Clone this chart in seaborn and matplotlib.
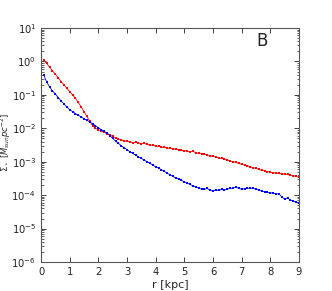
import numpy as np
import pandas as pd
import matplotlib
matplotlib.use("Agg")
import matplotlib.pyplot as plt
import seaborn as sns

# radius grid [kpc]
r_kpc = [round(0.1 * i, 1) for i in range(1, 91)]

# log10 of surface density
red_log = [0.04, -0.06, -0.17, -0.28, -0.38, -0.49, -0.60, -0.70, -0.80, -0.90,
           -1.00, -1.10, -1.22, -1.36, -1.50, -1.64, -1.79, -1.92, -2.00, -2.04,
           -2.08, -2.12, -2.16, -2.20, -2.24, -2.28, -2.32, -2.35, -2.37, -2.39,
           -2.40, -2.43, -2.42, -2.44, -2.46, -2.45, -2.48, -2.50, -2.51, -2.53,
           -2.54, -2.57, -2.56, -2.59, -2.60, -2.61, -2.63, -2.64, -2.65, -2.67,
           -2.68, -2.70, -2.69, -2.73, -2.75, -2.76, -2.78, -2.79, -2.82, -2.84,
           -2.86, -2.89, -2.90, -2.93, -2.95, -2.98, -3.00, -3.02, -3.05, -3.08,
           -3.10, -3.12, -3.15, -3.18, -3.20, -3.23, -3.26, -3.27, -3.30, -3.31,
           -3.33, -3.34, -3.35, -3.36, -3.37, -3.38, -3.40, -3.42, -3.44, -3.47]

blue_log = [-0.41, -0.62, -0.76, -0.88, -0.97, -1.08, -1.18, -1.27, -1.36, -1.44,
            -1.50, -1.56, -1.61, -1.66, -1.71, -1.76, -1.81, -1.86, -1.92, -1.98,
            -2.04, -2.09, -2.14, -2.22, -2.30, -2.38, -2.45, -2.52, -2.58, -2.64,
            -2.70, -2.75, -2.80, -2.85, -2.90, -2.95, -3.00, -3.05, -3.10, -3.15,
            -3.19, -3.24, -3.29, -3.34, -3.39, -3.44, -3.48, -3.52, -3.56, -3.60,
            -3.64, -3.68, -3.72, -3.76, -3.79, -3.82, -3.83, -3.80, -3.86, -3.88,
            -3.84, -3.86, -3.83, -3.85, -3.82, -3.80, -3.79, -3.76, -3.80, -3.82,
            -3.81, -3.80, -3.79, -3.80, -3.82, -3.85, -3.88, -3.90, -3.92, -3.93,
            -3.94, -3.97, -3.96, -4.05, -4.12, -4.08, -4.15, -4.18, -4.20, -4.24]

df = pd.DataFrame({
    "r": r_kpc * 2,
    "sigma": [10 ** v for v in red_log + blue_log],
    "comp": ["red"] * len(red_log) + ["blue"] * len(blue_log),
})

sns.set_style("ticks")
plt.rcParams["font.family"] = ["DejaVu Sans"]
plt.rcParams["xtick.direction"] = "in"
plt.rcParams["ytick.direction"] = "in"
plt.rcParams["axes.unicode_minus"] = False

fig = plt.figure(figsize=(3.32, 2.91), dpi=100)
ax = fig.add_axes([0.1235, 0.0997, 0.777, 0.804])

sns.lineplot(data=df, x="r", y="sigma", hue="comp",
             palette={"red": "#ff0000", "blue": "#0000ff"},
             marker="s", markersize=1.6, markeredgewidth=0, linewidth=0.6,
             legend=False, ax=ax)

ax.set_yscale("log")
ax.set_xlim(0, 9)
ax.set_ylim(1e-6, 10)
ax.set_xticks(range(0, 10))
ax.tick_params(which="both", top=True, right=True, labelsize=7.2, colors="#222222")
ax.tick_params(which="major", length=3.5, width=0.6)
ax.tick_params(which="minor", length=1.8, width=0.5)
for s in ax.spines.values():
    s.set_color("#555555")
    s.set_linewidth(0.8)

ax.set_xlabel("r [kpc]", fontsize=8, labelpad=2)
ax.set_ylabel(r"$\Sigma_\star\ [M_{sun} pc^{-2}]$", fontsize=6)
ax.yaxis.set_label_coords(-0.108, 0.51)
ax.text(0.857, 0.945, "B", transform=ax.transAxes, fontsize=12, ha="center", va="center")

fig.savefig("out.png", dpi=100)
